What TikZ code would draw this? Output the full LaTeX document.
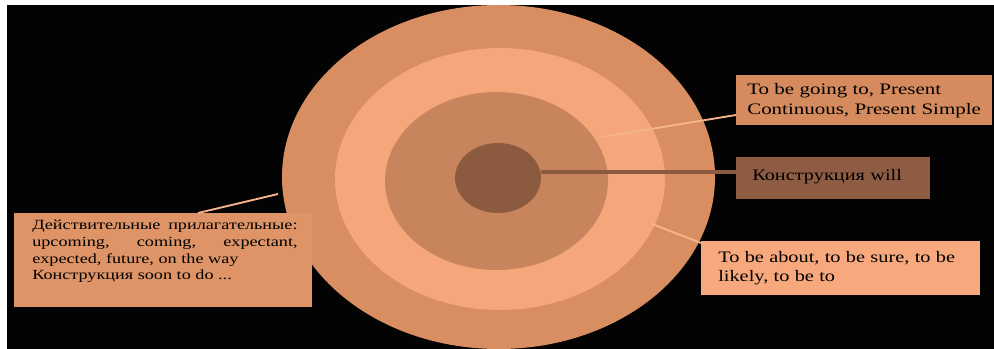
\documentclass[tikz,border=0pt]{standalone}
\usepackage{fontspec}
\setmainfont{Liberation Serif}[FakeStretch=1.27]
\newfontfamily\leftfont{Liberation Serif}[FakeStretch=1.3]
\newfontfamily\widefont{Liberation Serif}[FakeStretch=1.31]
\newcommand\nohyph{\hyphenpenalty=10000\relax\exhyphenpenalty=10000\relax}
\definecolor{bgblack}{HTML}{030303}
\definecolor{outerc}{HTML}{D98E62}
\definecolor{lightc}{HTML}{F5A67B}
\definecolor{midc}{HTML}{C8855D}
\definecolor{innerc}{HTML}{8C5B3F}
\definecolor{boxa}{HTML}{D68B5F}
\definecolor{boxwill}{HTML}{8E5C42}
\definecolor{boxb}{HTML}{F7A87C}
\definecolor{boxc}{HTML}{DE9466}
\definecolor{linec}{HTML}{F6B48C}
\tikzset{
  boxnode/.style={rectangle, inner sep=0pt, draw=none},
  txtnode/.style={inner sep=0pt, anchor=north west, align=left, text=black,
    font=\fontsize{12}{14.8}\selectfont\nohyph},
  conn/.style={draw=linec, line width=1.4pt},
}
\begin{document}
\begin{tikzpicture}[x=0.75pt,y=-0.75pt]
\useasboundingbox (0,0) rectangle (994,349);
\fill[white] (0,0) rectangle (994,349);
\fill[bgblack] (7,5) rectangle (994,349);
% rings
\fill[outerc] (498.5,177) ellipse [x radius=216.5, y radius=172];
\fill[lightc] (500,179) ellipse [x radius=165, y radius=131];
\fill[midc] (496.5,181) ellipse [x radius=111.5, y radius=89];
\fill[innerc] (498,178) ellipse [x radius=43, y radius=35];
% boxes
\node[boxnode, fill=boxa, minimum width=192pt, minimum height=37pt, anchor=north west] (boxtop) at (736,75) {};
\node[boxnode, fill=boxwill, minimum width=145pt, minimum height=31pt, anchor=north west] (boxwill) at (736,157) {};
\node[boxnode, fill=boxb, minimum width=209pt, minimum height=40.5pt, anchor=north west] (boxbot) at (701,241) {};
\node[boxnode, fill=boxc, minimum width=223pt, minimum height=70.5pt, anchor=north west] (boxleft) at (14,213) {};
% texts
\node[txtnode, text width=190pt, font=\widefont\fontsize{12}{15}\selectfont\nohyph] (ttop) at (747,83) {To be going to, Present\\Continuous, Present Simple};
\node[txtnode, anchor=west, text width=130pt] (twill) at (752,177) {Конструкция will};
\node[txtnode, text width=185pt, font=\fontsize{12}{14.3}\selectfont\nohyph] (tbot) at (718,251) {To be about, to be sure, to be likely, to be to};
\node[txtnode, align=justify, text width=199pt, font=\leftfont\fontsize{10.5}{12.5}\selectfont\nohyph] (tleft) at (32,220)
  {Действительные прилагательные: upcoming, coming, expectant, expected, future, on the way\par Конструкция soon to do ...};
% connectors
\coordinate (ptop) at (602,137);
\coordinate (pcore) at (541,172);
\coordinate (pbot) at (652,224);
\coordinate (pleft) at (278,194);
\coordinate (boxtopin) at (736,115);
\coordinate (boxwillin) at (736,172);
\coordinate (boxbotin) at (701,243);
\coordinate (boxleftin) at (198,213);
\draw[conn] (ptop) -- (boxtopin);
\draw[draw=innerc, line width=3pt] (pcore) -- (boxwillin);
\draw[conn] (pbot) -- (boxbotin);
\draw[conn] (pleft) -- (boxleftin);
\end{tikzpicture}
\end{document}
